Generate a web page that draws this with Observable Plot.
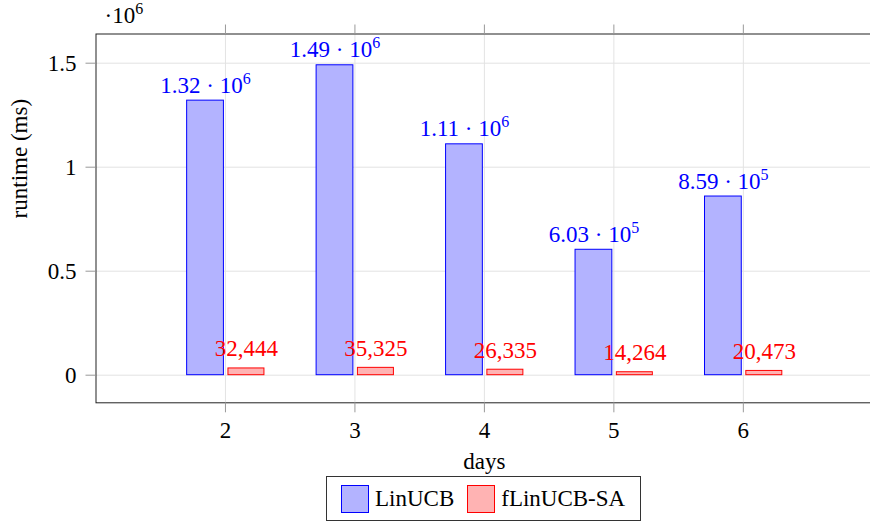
<!DOCTYPE html>
<html>
<head>
<meta charset="utf-8">
<script src="https://cdn.jsdelivr.net/npm/d3@7"></script>
<script src="https://cdn.jsdelivr.net/npm/@observablehq/plot@0.6"></script>
<style>
  html, body { margin: 0; padding: 0; background: #fff; overflow: hidden; }
  #chart { position: relative; width: 870px; height: 525px; }
  #chart svg text { font-family: "Liberation Serif", serif; }
  #legend {
    position: absolute; left: 326px; top: 476px; width: 315px; height: 45px;
    box-sizing: border-box; border: 1px solid #333; display: flex; align-items: center;
    padding-left: 14px; font-family: "Liberation Serif", serif; font-size: 23px; color: #000;
  }
  .sw { width: 28px; height: 28px; box-sizing: border-box; margin-right: 6px; }
</style>
</head>
<body>
<div id="chart"></div>
<script>
// ---- data ----
const days = [2, 3, 4, 5, 6];
const linucb = [1320000, 1490000, 1110000, 603000, 859000];
const flinucb = [32444, 35325, 26335, 14264, 20473];
const seriesNames = ["LinUCB", "fLinUCB-SA"];
const yTicks = [0, 500000, 1000000, 1500000];

const blueFill = "#b3b3ff", blueStroke = "#0000ff";
const redFill = "#ffb3b3", redStroke = "#ff0000";

function sciLabel(v) {
  const [m, e] = v.toExponential(2).split("e");
  return `${m} · 10^${+e}`;
}
const rowsA = days.map((d, i) => ({day: d, value: linucb[i], label: sciLabel(linucb[i])}));
const rowsB = days.map((d, i) => ({day: d, value: flinucb[i], label: d3.format(",")(flinucb[i])}));

const fs = 23;
const plot = Plot.plot({
  width: 870,
  height: 476,
  marginLeft: 95.5,
  marginRight: -2.3,
  marginTop: 33.5,
  marginBottom: 73.7,
  style: {fontFamily: '"Liberation Serif", serif', fontSize: fs + "px", background: "#fff", color: "#000"},
  x: {domain: [1, 7], label: null},
  y: {domain: [-132700, 1640400], label: null},
  marks: [
    Plot.gridX({ticks: days, stroke: "#e3e3e3", strokeOpacity: 1}),
    Plot.gridY({ticks: yTicks, stroke: "#e3e3e3", strokeOpacity: 1}),
    Plot.rect(rowsA, {x1: d => d.day - 0.296, x2: d => d.day - 0.012, y1: 0, y2: "value",
      fill: blueFill, stroke: blueStroke, strokeWidth: 1}),
    Plot.rect(rowsB, {x1: d => d.day + 0.023, x2: d => d.day + 0.301, y1: 0, y2: "value",
      fill: redFill, stroke: redStroke, strokeWidth: 1}),
    Plot.text(rowsA, {x: d => d.day - 0.154, y: "value", text: "label", fill: blueStroke,
      lineAnchor: "bottom", dy: -8, fontSize: fs}),
    Plot.text(rowsB, {x: d => d.day + 0.162, y: "value", text: "label", fill: redStroke,
      lineAnchor: "bottom", dy: -12, fontSize: fs}),
    Plot.frame({stroke: "#222", strokeWidth: 1}),
    Plot.axisY({ticks: yTicks, tickSize: 10, tickPadding: 9.5, stroke: "#999", fill: "#000",
      tickFormat: d => d3.format("")(d / 1e6), label: null, fontSize: fs}),
    Plot.axisX({ticks: days, anchor: "bottom", tickSize: 10, tickPadding: 9, stroke: "#999", fill: "#000",
      tickFormat: d => String(d), label: null, fontSize: fs}),
    Plot.axisX({ticks: days, anchor: "top", tickSize: 10, stroke: "#999",
      tickFormat: () => "", label: null}),
    Plot.text(["·10^6"], {frameAnchor: "top-left", text: d => d, textAnchor: "start",
      lineAnchor: "bottom", dx: 8.5, dy: -11.5, fontSize: fs, fill: "#000"}),
    Plot.text(["runtime (ms)"], {frameAnchor: "left", text: d => d, rotate: -90,
      dx: -76, fontSize: fs, fill: "#000"}),
    Plot.text(["days"], {frameAnchor: "bottom", text: d => d, lineAnchor: "bottom",
      dy: 66, fontSize: fs, fill: "#000"})
  ]
});

// superscripts
d3.select(plot).selectAll("text").each(function() {
  const t = this.textContent;
  if (t.includes("^") && this.children.length === 0) {
    const [base, sup] = t.split("^");
    this.textContent = "";
    const ns = "http://www.w3.org/2000/svg";
    const a = document.createElementNS(ns, "tspan");
    a.textContent = base;
    const b = document.createElementNS(ns, "tspan");
    b.textContent = sup;
    b.setAttribute("dy", "-9");
    b.setAttribute("font-size", "16");
    this.appendChild(a);
    this.appendChild(b);
  }
});

const chart = document.getElementById("chart");
chart.appendChild(plot);

const legend = document.createElement("div");
legend.id = "legend";
const fills = [blueFill, redFill], strokes = [blueStroke, redStroke];
seriesNames.forEach((name, i) => {
  const sw = document.createElement("div");
  sw.className = "sw";
  sw.style.background = fills[i];
  sw.style.border = `1px solid ${strokes[i]}`;
  const tx = document.createElement("span");
  tx.textContent = name;
  tx.style.marginRight = i === 0 ? "13px" : "0";
  legend.appendChild(sw);
  legend.appendChild(tx);
});
chart.appendChild(legend);
</script>
</body>
</html>
